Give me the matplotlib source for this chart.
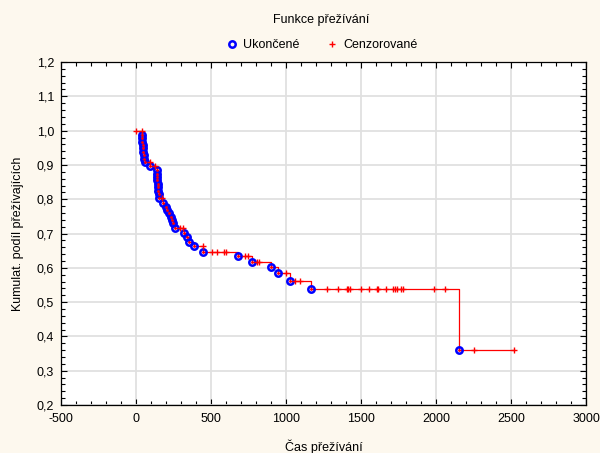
import matplotlib
matplotlib.use("Agg")
import matplotlib.pyplot as plt
from matplotlib.ticker import MultipleLocator, FuncFormatter

# event times (Ukončené) and survival level after each event
event_t = [38, 40, 42, 44, 46, 48, 51, 55, 60, 93,
           140, 141, 142, 143, 144, 145, 147, 150, 155,
           180, 200, 207, 220, 233, 240, 247, 260,
           320, 340, 353, 387, 447, 680, 773, 900, 947, 1027, 1167, 2153]
event_s = [0.988, 0.978, 0.968, 0.958, 0.948, 0.938, 0.928, 0.918, 0.908, 0.897,
           0.885, 0.875, 0.865, 0.855, 0.845, 0.835, 0.825, 0.815, 0.803,
           0.789, 0.777, 0.769, 0.760, 0.748, 0.739, 0.731, 0.716,
           0.701, 0.690, 0.675, 0.664, 0.646, 0.634, 0.617, 0.602, 0.585, 0.562, 0.538, 0.360]

# censored times (Cenzorované) and the level they sit on
cens_t = [0, 40, 93, 127, 173, 293, 313, 447, 507, 540, 587, 600,
          727, 747, 807, 820, 1000, 1060, 1093,
          1273, 1347, 1407, 1413, 1427, 1500, 1553, 1607, 1613, 1667,
          1713, 1727, 1740, 1767, 1780, 1987, 2060, 2253, 2520]
cens_s = [1.0, 1.0, 0.908, 0.897, 0.803, 0.716, 0.716, 0.664, 0.646, 0.646, 0.646, 0.646,
          0.634, 0.634, 0.617, 0.617, 0.585, 0.562, 0.562,
          0.538, 0.538, 0.538, 0.538, 0.538, 0.538, 0.538, 0.538, 0.538, 0.538,
          0.538, 0.538, 0.538, 0.538, 0.538, 0.538, 0.538, 0.360, 0.360]

plt.rcParams['font.family'] = ['Liberation Sans', 'DejaVu Sans']
plt.rcParams['font.size'] = 9
plt.rcParams['axes.unicode_minus'] = False

fig = plt.figure(figsize=(6.0, 4.53), dpi=100, facecolor='#fdf8ee')
ax = fig.add_axes([0.1017, 0.106, 0.8750, 0.757])
ax.set_facecolor('white')

# step curve
step_t = [0] + event_t + [max(cens_t)]
step_s = [1.0] + event_s + [event_s[-1]]
ax.step(step_t, step_s, where='post', color='red', lw=0.9, zorder=2)

ax.plot(event_t, event_s, 'o', ms=4.6, mfc='none', mec='blue', mew=1.8, zorder=3,
        label='Ukončené')
ax.plot(cens_t, cens_s, '+', ms=5, color='red', mew=1, zorder=4,
        label='Cenzorované')
ax.plot(event_t, event_s, '.', ms=2, color='red', zorder=4)

ax.set_xlim(-500, 3000)
ax.set_ylim(0.2, 1.2)
ax.xaxis.set_major_locator(MultipleLocator(500))
ax.xaxis.set_minor_locator(MultipleLocator(100))
ax.yaxis.set_major_locator(MultipleLocator(0.1))
ax.yaxis.set_minor_locator(MultipleLocator(0.02))
ax.yaxis.set_major_formatter(FuncFormatter(lambda v, p: ('%.1f' % v).replace('.', ',')))
ax.tick_params(which='both', direction='in', top=True, right=True, color='black')
ax.tick_params(which='major', length=4, width=0.8)
ax.tick_params(which='minor', length=3, width=0.8)
ax.tick_params(axis='x', pad=6)
ax.tick_params(axis='y', pad=5)
ax.grid(True, which='major', color='#e0e0e0', lw=1.3)
ax.set_axisbelow(True)
for sp in ax.spines.values():
    sp.set_linewidth(0.9)

ax.set_xlabel('Čas přežívání', labelpad=10)
ax.set_ylabel('Kumulat. podíl přežívajících', labelpad=9)

fig.text(0.535, 0.955, 'Funkce přežívání', ha='center', va='center', fontsize=9)
fig.legend(loc='center', bbox_to_anchor=(0.535, 0.9), ncol=2, frameon=False,
           handletextpad=0.3, columnspacing=2.0, handlelength=1.2, fontsize=9)

fig.savefig('out.png', dpi=100, facecolor=fig.get_facecolor())
